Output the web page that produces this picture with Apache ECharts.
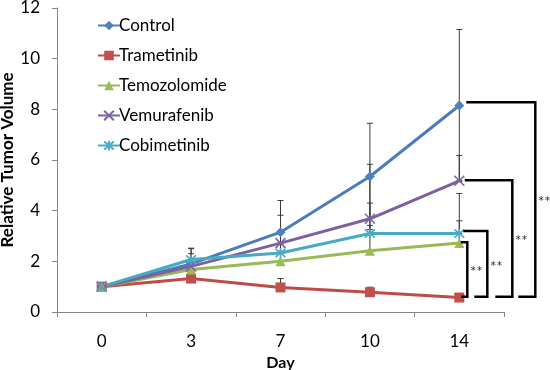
<!DOCTYPE html>
<html>
<head>
<meta charset="utf-8">
<script src="https://cdn.jsdelivr.net/npm/echarts@6/dist/echarts.min.js"></script>
<style>
  html, body { margin: 0; padding: 0; background: #fff; }
  #chart { width: 550px; height: 370px; }
</style>
</head>
<body>
<div id="chart"></div>
<script>
// x categories (days)
const days = ['0', '3', '7', '10', '14'];

const seriesNames = ['Control', 'Trametinib', 'Temozolomide', 'Vemurafenib', 'Cobimetinib'];

// mean relative tumor volume
const control      = [1.0, 1.9, 3.15, 5.35, 8.15];
const trametinib   = [1.0, 1.32, 0.97, 0.78, 0.57];
const temozolomide = [1.0, 1.68, 2.0, 2.42, 2.72];
const vemurafenib  = [1.0, 1.8, 2.72, 3.68, 5.18];
const cobimetinib  = [1.0, 2.07, 2.33, 3.1, 3.1];

// error bar sizes (control drawn both ways, the others upward only)
const controlErr      = [0, 0.6, 1.25, 2.1, 3.0];
const trametinibErr   = [0, 0.15, 0.35, 0.2, 0.12];
const temozolomideErr = [0, 0.2, 0.4, 1.0, 0.88];
const vemurafenibErr  = [0, 0.5, 1.1, 2.15, 1.0];
const cobimetinibErr  = [0, 0.45, 0.35, 1.2, 1.58];

// significance brackets vs Trametinib at day 14
const bracketTop    = [8.28, 5.2, 3.2, 2.75];
const bracketBottom = 0.6;
const bracketText   = ['**', '**', '**', '**'];

const colors = {
  line:   ['#4A7EBB', '#BE4B48', '#98B954', '#7D60A0', '#46AAC5'],
  marker: ['#4F81BD', '#C0504D', '#9BBB59', '#8064A2', '#4BACC6']
};

const values = [control, trametinib, temozolomide, vemurafenib, cobimetinib];
const errs = [controlErr, trametinibErr, temozolomideErr, vemurafenibErr, cobimetinibErr];

// build error-bar rows: [x, low, high]
const errRows = [];
values.forEach((vals, s) => {
  vals.forEach((v, i) => {
    const e = errs[s][i];
    if (!e) return;
    const low = s === 0 ? v - e : v;
    errRows.push([i, low, v + e]);
  });
});

const chart = echarts.init(document.getElementById('chart'));

const symbols = [
  'diamond',
  'rect',
  'triangle',
  'path://M0,0L10,10M10,0L0,10',
  'path://M0,0L10,10M10,0L0,10M5,-1L5,11'
];
const symbolSizes = [10, 10, 10, 10, 10];

const lineSeries = seriesNames.map((name, s) => {
  const stroked = s >= 3;
  return {
    name: name,
    type: 'line',
    data: values[s],
    symbol: symbols[s],
    symbolSize: symbolSizes[s],
    showAllSymbol: true,
    z: 3,
    lineStyle: { color: colors.line[s], width: 3 },
    itemStyle: stroked
      ? { color: 'rgba(0,0,0,0)', borderColor: colors.marker[s], borderWidth: 1.6 }
      : { color: colors.marker[s], borderColor: colors.marker[s], borderWidth: 0 },
    emphasis: { disabled: true },
    animation: false
  };
});

// bracket geometry in pixels relative to day-14 point
const BR = [
  { vx: 76, ts: 7,   bs: 59 },
  { vx: 53, ts: 5.5, bs: 36 },
  { vx: 28, ts: 4,   bs: 15 },
  { vx: 8,  ts: 1.5, bs: 2 }
];

const option = {
  backgroundColor: '#fff',
  textStyle: { fontFamily: 'Lato, "Liberation Sans", sans-serif' },
  animation: false,
  grid: { left: 57, right: 46, top: 8, bottom: 58, containLabel: false, outerBoundsMode: 'none' },
  legend: {
    orient: 'vertical',
    left: 92,
    top: 12,
    itemWidth: 22,
    itemHeight: 12,
    itemGap: 13,
    data: seriesNames,
    textStyle: { fontSize: 17, color: '#000', fontFamily: 'Lato, sans-serif', padding: [0, 0, 0, -6] }
  },
  xAxis: {
    type: 'category',
    data: days,
    name: 'Day',
    nameLocation: 'middle',
    nameGap: 43,
    nameMoveOverlap: false,
    nameTextStyle: { fontSize: 16, fontWeight: 'bold', color: '#000' },
    axisLine: { lineStyle: { color: '#868686', width: 1 } },
    axisTick: { show: true, length: 5, lineStyle: { color: '#868686' } },
    axisLabel: { fontSize: 17, color: '#000', margin: 21 },
    splitLine: { show: false }
  },
  yAxis: {
    type: 'value',
    min: 0,
    max: 12,
    interval: 2,
    name: 'Relative Tumor Volume',
    nameLocation: 'middle',
    nameGap: 41,
    nameMoveOverlap: false,
    nameTextStyle: { fontSize: 17, fontWeight: 'bold', color: '#000' },
    axisLine: { show: true, lineStyle: { color: '#868686', width: 1 } },
    axisTick: { show: true, length: 5, lineStyle: { color: '#868686' } },
    axisLabel: { fontSize: 17, color: '#000', margin: 17 },
    splitLine: { show: false }
  },
  series: [
    {
      type: 'custom',
      name: 'err',
      z: 1,
      silent: true,
      data: errRows,
      renderItem: (params, api) => {
        const x = api.value(0);
        const lo = api.coord([x, api.value(1)]);
        const hi = api.coord([x, api.value(2)]);
        const c = 3;
        const st = { stroke: '#3a3a3a', lineWidth: 1 };
        return {
          type: 'group',
          children: [
            { type: 'line', shape: { x1: hi[0], y1: hi[1], x2: lo[0], y2: lo[1] }, style: st },
            { type: 'line', shape: { x1: hi[0] - c, y1: hi[1], x2: hi[0] + c, y2: hi[1] }, style: st },
            { type: 'line', shape: { x1: lo[0] - c, y1: lo[1], x2: lo[0] + c, y2: lo[1] }, style: st }
          ]
        };
      }
    },
    ...lineSeries,
    {
      type: 'custom',
      name: 'brackets',
      z: 4,
      silent: true,
      clip: false,
      data: bracketTop.map((t, k) => [days.length - 1, t, bracketBottom, k]),
      renderItem: (params, api) => {
        const k = api.value(3);
        const b = BR[k];
        const top = api.coord([api.value(0), api.value(1)]);
        const bot = api.coord([api.value(0), api.value(2)]);
        const x0 = top[0];
        const vx = x0 + b.vx;
        const st = { stroke: '#000', lineWidth: 2.5, fill: null };
        return {
          type: 'group',
          children: [
            { type: 'polyline', shape: { points: [[x0 + b.ts, top[1]], [vx, top[1]], [vx, bot[1]], [x0 + b.bs, bot[1]]] }, style: st },
            {
              type: 'text',
              style: {
                x: vx + 9, y: (top[1] + bot[1]) / 2 + 3,
                text: bracketText[k],
                fill: '#333',
                font: '15px Lato, sans-serif',
                align: 'center',
                verticalAlign: 'middle'
              }
            }
          ]
        };
      }
    }
  ]
};

chart.setOption(option);
</script>
</body>
</html>
